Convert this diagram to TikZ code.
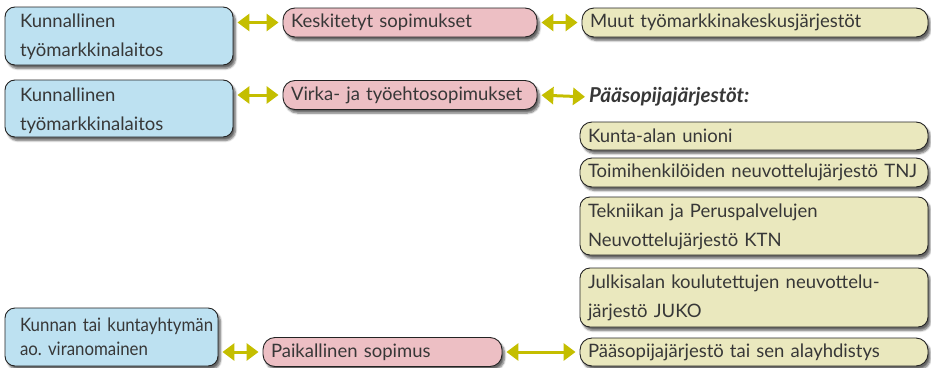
\documentclass[tikz,border=0pt]{standalone}
\usepackage{fontspec}
\setmainfont{Lato}
\newfontfamily\narrowlato[FakeStretch=0.91]{Lato}
\usetikzlibrary{arrows.meta,shadows.blur}
\definecolor{bluefill}{RGB}{189,225,241}
\definecolor{pinkfill}{RGB}{237,191,196}
\definecolor{yelfill}{RGB}{234,232,190}
\definecolor{olive}{RGB}{196,190,0}
\definecolor{edge}{RGB}{35,35,35}
\definecolor{txt}{RGB}{55,55,55}
\frenchspacing
\tikzset{
  box/.style={draw=edge, line width=0.9pt, text=txt, align=left, inner ysep=0pt,
    font=\fontsize{18.5}{29}\selectfont,
    blur shadow={shadow xshift=2.5pt, shadow yshift=-3.5pt, shadow blur steps=6, shadow opacity=60}},
  bluebox/.style={box, fill=bluefill, rounded corners=10pt, inner xsep=15pt},
  pill/.style={box, rounded corners=12pt, inner xsep=8pt},
  twoline/.style={box, rounded corners=10pt, inner xsep=8pt},
  dbl/.style={draw=olive, line width=3pt, {Triangle[length=12pt,width=17pt]}-{Triangle[length=12pt,width=17pt]}, shorten <=4pt, shorten >=4pt},
}
\begin{document}
\begin{tikzpicture}[x=1pt,y=-1pt]
\useasboundingbox (0,0) rectangle (931,367);
% left column
\node[bluebox, minimum width=228pt, minimum height=58pt, text width=198pt, text height=13pt, text depth=30pt] (b1) at (119,36) {\mbox{Kunnallinen}\\\mbox{työmarkkinalaitos}};
\node[bluebox, minimum width=228pt, minimum height=57pt, text width=198pt, text height=13pt, text depth=27pt] (b2) at (119,108.5) {\mbox{Kunnallinen}\\\mbox{työmarkkinalaitos}};
\node[bluebox, minimum width=213pt, minimum height=58pt, text width=183pt, font=\narrowlato\fontsize{18.5}{24}\selectfont, text height=13pt, text depth=24pt] (b3) at (111.5,337) {\mbox{Kunnan tai kuntayhtymän}\\\mbox{ao. viranomainen}};
% middle column
\node[pill, fill=pinkfill, minimum width=254pt, minimum height=29pt, text width=238pt] (p1) at (410,22.5) {\mbox{Keskitetyt sopimukset}};
\node[pill, fill=pinkfill, minimum width=254pt, minimum height=29pt, text width=238pt] (p2) at (410,95) {\mbox{Virka- ja työehtosopimukset}};
\node[pill, fill=pinkfill, minimum width=239pt, minimum height=29pt, text width=223pt] (p3) at (382.5,352) {\mbox{Paikallinen sopimus}};
% right column
\node[pill, fill=yelfill, minimum width=346pt, minimum height=29pt, text width=330pt] (y1) at (755,22.5) {\mbox{Muut työmarkkinakeskusjärjestöt}};
\node[anchor=west, inner sep=0pt, text=txt, font=\fontsize{20.5}{22}\selectfont\bfseries\itshape] (ps) at (589,97) {Pääsopijajärjestöt:};
\node[pill, fill=yelfill, minimum width=348pt, minimum height=28pt, text width=332pt] (y2) at (754,136) {\mbox{Kunta-alan unioni}};
\node[pill, fill=yelfill, minimum width=348pt, minimum height=29pt, text width=332pt] (y3) at (754,172.5) {\mbox{Toimihenkilöiden neuvottelujärjestö TNJ}};
\node[twoline, fill=yelfill, minimum width=348pt, minimum height=58pt, text width=332pt, text height=13pt, text depth=30pt] (y4) at (754,226) {\mbox{Tekniikan ja Peruspalvelujen}\\\mbox{Neuvottelujärjestö KTN}};
\node[twoline, fill=yelfill, minimum width=348pt, minimum height=59pt, text width=332pt, text height=13pt, text depth=31pt] (y5) at (754,297.5) {\mbox{Julkisalan koulutettujen neuvottelu-}\\\mbox{järjestö JUKO}};
\node[pill, fill=yelfill, minimum width=348pt, minimum height=28pt, text width=332pt] (y6) at (754,352) {\mbox{Pääsopijajärjestö tai sen alayhdistys}};
% connectors
\draw[dbl] (b1.east |- p1.west) -- (p1.west);
\draw[dbl] (p1.east) -- (y1.west);
\draw[dbl] (b2.east |- p2.west) -- (p2.west);
\draw[dbl] (p2.east) -- (ps.west);
\draw[dbl] (b3.east |- p3.west) -- (p3.west);
\draw[dbl] (p3.east) -- (y6.west);
\end{tikzpicture}
\end{document}
